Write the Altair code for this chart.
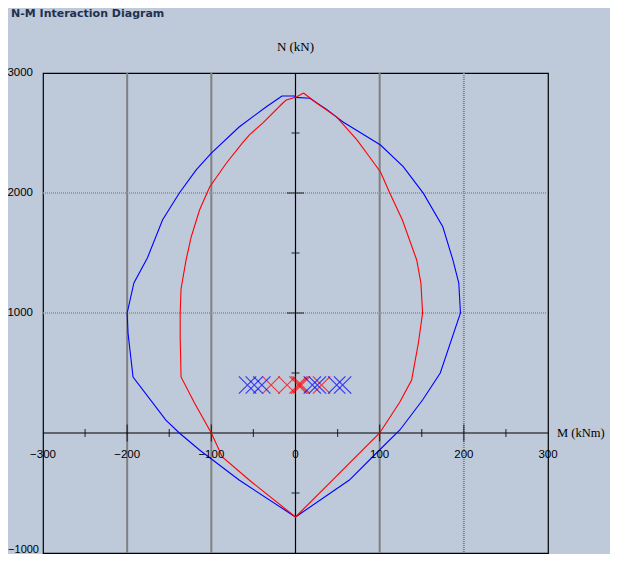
import altair as alt
import pandas as pd

# ---- data ----
blue_M = [-16, -1, 0, 17, 37, 56, 72, 101, 128, 152, 175, 187, 194, 196, 172, 151, 124, 95, 64, 0,
          -67, -114, -138, -154, -193, -199, -200, -192, -176, -158, -138, -118, -100, -67, -35, -16]
blue_N = [2808, 2808, 2797, 2789, 2697, 2594, 2525, 2400, 2219, 1997, 1719, 1442, 1250, 1000, 500, 275, 25, -175, -392, -700,
          -392, -142, 0, 108, 467, 833, 1000, 1250, 1458, 1775, 2000, 2192, 2333, 2550, 2717, 2808]

red_M = [9.5, 25, 49, 73, 88, 101, 112, 127, 144, 149, 151, 146, 138, 124, 100, 44, 0,
         -55, -87, -100, -120, -136, -137, -137, -136, -130, -124, -114, -102, -82, -63, -55, -39, -15, -11, 1, 9.5]
red_N = [2833, 2750, 2633, 2442, 2300, 2175, 2000, 1775, 1442, 1250, 1000, 750, 442, 258, 0, -392, -700,
         -392, -200, 0, 250, 467, 800, 1000, 1200, 1442, 1633, 1858, 2050, 2250, 2417, 2483, 2583, 2750, 2775, 2800, 2833]

blue_load_M = [-57, -49, -40, 20, 26, 49, 56]
red_load_M = [-29, -10, 3, 5, 7, 31]
load_N = 400

x_label_values = [-300, -200, -100, 0, 100, 200, 300]
y_label_values = [1000, 2000, 3000]
y_label_bottom = [-1000]
grid_solid_M = [-200, -100, 100]
grid_dotted_M = [200]
grid_dotted_N = [1000, 2000]
m_minor = [-250, -150, -50, 50, 150, 250]
m_major = [-200, -100, 100, 200]
n_minor = [-500, 500, 1500, 2500]
n_major = [1000, 2000]

title_text = "N-M Interaction Diagram"
x_title = "M (kNm)"
y_title = "N (kN)"

BG = "#BEC9D9"

# ---- tables ----
curves = pd.concat([
    pd.DataFrame({"M": blue_M, "N": blue_N, "s": "blue", "o": range(len(blue_M))}),
    pd.DataFrame({"M": red_M, "N": red_N, "s": "red", "o": range(len(red_M))}),
])
loads = pd.concat([
    pd.DataFrame({"M": red_load_M, "N": load_N, "s": "red"}),
    pd.DataFrame({"M": blue_load_M, "N": load_N, "s": "blue"}),
])

xs = alt.Scale(domain=[-300, 300], nice=False, zero=False)
ys = alt.Scale(domain=[-1000, 3000], nice=False, zero=False)
cs = alt.Scale(domain=["blue", "red"], range=["#0000FF", "#FF0000"])

one = pd.DataFrame({"k": [0]})

grid_solid = alt.Chart(pd.DataFrame({"M": grid_solid_M})).mark_rule(
    color="#808080", strokeWidth=2).encode(x=alt.X("M:Q", scale=xs, axis=None))
grid_dot_v = alt.Chart(pd.DataFrame({"M": grid_dotted_M})).mark_rule(
    color="#808080", strokeWidth=2, strokeDash=[1, 1]).encode(x=alt.X("M:Q", scale=xs, axis=None))
grid_dot_h = alt.Chart(pd.DataFrame({"N": grid_dotted_N})).mark_rule(
    color="#8C8C8C", strokeWidth=1.5, strokeDash=[1, 1]).encode(y=alt.Y("N:Q", scale=ys, axis=None))

axis_m = alt.Chart(one).mark_rule(color="black", strokeWidth=1.2).encode(
    y=alt.Y("k:Q", scale=ys, axis=None))
axis_n = alt.Chart(one).mark_rule(color="black", strokeWidth=1.2).encode(
    x=alt.X("k:Q", scale=xs, axis=None))

def mticks(vals, size):
    return alt.Chart(pd.DataFrame({"M": vals, "z": 0})).mark_tick(
        orient="vertical", size=size, thickness=1.2, color="black").encode(
        x=alt.X("M:Q", scale=xs, axis=None), y=alt.Y("z:Q", scale=ys, axis=None))

def nticks(vals, size):
    return alt.Chart(pd.DataFrame({"N": vals, "z": 0})).mark_tick(
        orient="horizontal", size=size, thickness=1.2, color="black").encode(
        y=alt.Y("N:Q", scale=ys, axis=None), x=alt.X("z:Q", scale=xs, axis=None))

lines = alt.Chart(curves).mark_line(strokeWidth=1.1).encode(
    x=alt.X("M:Q", scale=xs, axis=None),
    y=alt.Y("N:Q", scale=ys, axis=None),
    color=alt.Color("s:N", scale=cs, legend=None),
    detail="s:N",
    order="o:Q",
)

xmarks = alt.Chart(loads).mark_point(
    shape="M-1,-1L1,1M-1,1L1,-1", size=300, strokeWidth=1.2, filled=False).encode(
    x=alt.X("M:Q", scale=xs, axis=None),
    y=alt.Y("N:Q", scale=ys, axis=None),
    color=alt.Color("s:N", scale=cs, legend=None),
)

# tick labels
xlab = alt.Chart(pd.DataFrame({"v": x_label_values})).mark_text(
    align="center", baseline="middle", font="Liberation Sans", fontSize=11.5, color="black").encode(
    x=alt.X("v:Q", scale=xs, axis=None), y=alt.value(382), text="v:Q")
ylab = alt.Chart(pd.DataFrame({"v": y_label_values})).mark_text(
    align="right", baseline="middle", font="Liberation Sans", fontSize=11.5, color="black").encode(
    y=alt.Y("v:Q", scale=ys, axis=None), x=alt.value(-10), text="v:Q")
ylab_b = alt.Chart(pd.DataFrame({"v": y_label_bottom})).mark_text(
    align="right", baseline="alphabetic", font="Liberation Sans", fontSize=11, color="black").encode(
    y=alt.Y("v:Q", scale=ys, axis=None), x=alt.value(-4), text="v:Q")

title_layer = alt.Chart(pd.DataFrame({"t": [title_text]})).mark_text(
    align="left", baseline="middle", font="DejaVu Sans", fontWeight="bold",
    fontSize=11, color="#22314F").encode(
    x=alt.value(-32), y=alt.value(-59), text="t:N")

ytitle_layer = alt.Chart(pd.DataFrame({"t": [y_title], "z": [0]})).mark_text(
    align="center", baseline="middle", font="Liberation Serif", fontSize=13, color="black").encode(
    x=alt.X("z:Q", scale=xs, axis=None), y=alt.value(-26), text="t:N")

xtitle_layer = alt.Chart(pd.DataFrame({"t": [x_title], "z": [0]})).mark_text(
    align="left", baseline="middle", font="Liberation Serif", fontSize=12.5, color="black").encode(
    x=alt.value(514), y=alt.Y("z:Q", scale=ys, axis=None), text="t:N")

chart = alt.layer(
    grid_solid, grid_dot_v, grid_dot_h, axis_m, axis_n,
    mticks(m_minor, 8), mticks(m_major, 17), nticks(n_minor, 8), nticks(n_major, 17),
    lines, xmarks, xlab, ylab, ylab_b, title_layer, ytitle_layer, xtitle_layer,
).properties(
    width=505, height=480,
    autosize=alt.AutoSizeParams(type="none"),
    padding={"left": 35, "top": 65, "right": 62, "bottom": 1},
    background=BG,
).configure_view(stroke="black", strokeWidth=1.2, fill=BG)

chart.save("out.html", embed_options={"renderer": "svg", "actions": False})
